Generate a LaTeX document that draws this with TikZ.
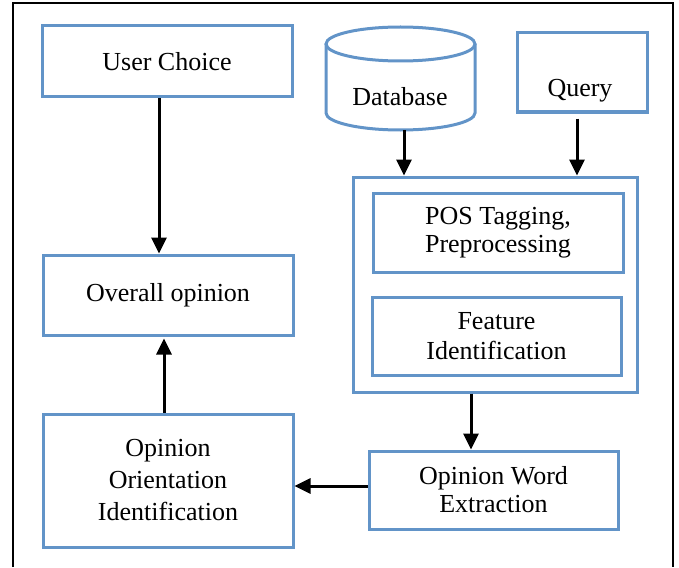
\documentclass[tikz,border=0pt]{standalone}
\usepackage{fontspec}
\setmainfont{Liberation Serif}
\usepackage{tikz}
\usetikzlibrary{arrows.meta}
\definecolor{boxblue}{RGB}{98,148,200}

\tikzset{
    blk/.style={draw=boxblue, line width=1.5pt, rectangle, align=center,
        font=\fontsize{13}{14}\selectfont, inner sep=0pt},
    txt/.style={font=\fontsize{13}{14}\selectfont, inner sep=0pt},
    arr/.style={-{Triangle[length=8pt,width=7.5pt]}, line width=1.5pt},
}

\begin{document}
\begin{tikzpicture}[x=0.5pt, y=-0.5pt]
\useasboundingbox (0,0) rectangle (679,567);

% frame
\draw[line width=1pt] (13,567) -- (13,3) -- (673,3) -- (673,567);

% left column
\node[blk, minimum width=125pt, minimum height=35.5pt] (uc) at (167,61.5) {User Choice};
\node[blk, minimum width=125pt, minimum height=40pt] (ovr) at (168,295) {Overall opinion};
\node[blk, minimum width=125pt, minimum height=66.5pt, font=\fontsize{13}{16}\selectfont]
    (ooi) at (168,480.5) {Opinion\\Orientation\\Identification};

% database
\node[minimum width=74.5pt, minimum height=51.5pt, inner sep=0pt] (db) at (400.5,78.5) {};
\draw[boxblue, line width=1.5pt] (326,44) -- (326,113)
    arc[start angle=180, end angle=0, x radius=74.5, y radius=17] -- (475,44);
\draw[boxblue, line width=1.5pt] (400.5,44) ellipse[x radius=74.5, y radius=17];
\node[txt] (dbtxt) at (400,97) {Database};

% query
\node[blk, minimum width=65pt, minimum height=39.5pt] (qry) at (582,72.5) {};
\node[txt] (qrytxt) at (580,91) {Query};

% processing group
\node[blk, minimum width=142pt, minimum height=107.5pt] (grp) at (495,284.5) {};
\node[blk, minimum width=125pt, minimum height=39.5pt] (pos) at (498,232.5) {POS Tagging,\\Preprocessing};
\node[blk, minimum width=124.5pt, minimum height=39pt, font=\fontsize{13}{15}\selectfont]
    (feat) at (496.5,336) {Feature\\Identification};

\node[blk, minimum width=124.5pt, minimum height=39pt] (owe) at (493.5,490) {Opinion Word\\Extraction};

% connectors
\coordinate (ucout) at ([xshift=-4pt]uc.south);
\coordinate (ooiout) at ([xshift=-2pt]ooi.north);
\coordinate (dbout) at ([xshift=1.75pt]db.south);
\coordinate (qout) at ([xshift=-2.5pt,yshift=-2.5pt]qry.south);
\coordinate (gout) at ([xshift=-12pt]grp.south);
\coordinate (oweout) at ([yshift=2pt]owe.west);

\draw[arr] (ucout) -- (ucout |- ovr.north);
\draw[arr] (ooiout) -- ([yshift=-1pt]ooiout |- ovr.south);
\draw[arr] (dbout) -- (dbout |- grp.north);
\draw[arr] (qout) -- (qout |- grp.north);
\draw[arr] (gout) -- (gout |- owe.north);
\draw[arr] (oweout) -- (oweout -| ooi.east);

\end{tikzpicture}
\end{document}
